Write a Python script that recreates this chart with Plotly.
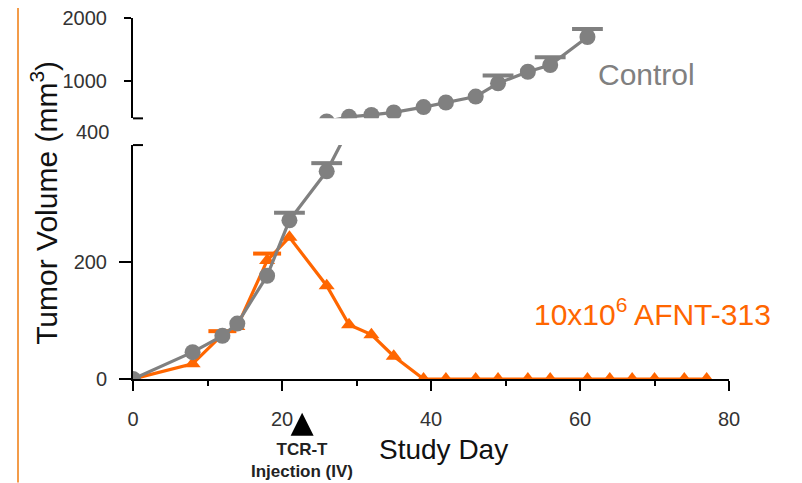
import plotly.graph_objects as go

# ---------------- data ----------------
days_control = [0, 8, 12, 14, 18, 21, 26, 29, 32, 35, 39, 42, 46, 49, 53, 56, 61]
control = [0, 46, 74, 95, 177, 272, 356, 430, 460, 500, 584, 657, 752, 963, 1147, 1253, 1700]
control_err = [None, None, None, None, None, 13, 14, None, None, None, None, None, None, 125, None, 125, 125]

days_afnt = [0, 8, 12, 14, 18, 21, 26, 29, 32, 35, 39, 42, 46, 49, 53, 56, 61, 64, 67, 70, 74, 77]
afnt = [0, 26, 76, 90, 203, 243, 160, 93, 76, 39, 0, 0, 0, 0, 0, 0, 0, 0, 0, 0, 0, 0]
afnt_err = [None, None, 6, None, 12] + [None] * 17

x_ticks = [0, 20, 40, 60, 80]
y_low_ticks = [0, 200]
y_high_ticks = [1000, 2000]
injection_day = 22.7

GRAY = "#808080"
ORANGE = "#FF6600"
FONT = "Liberation Sans, Arial, sans-serif"

# ---------------- layout geometry (page pixels; body has 8px margin) ----------------
OFF = 8
WIDTH, HEIGHT = 802 - OFF, 483 - OFF
L = 133 - OFF
T = 18 - OFF
R = WIDTH - (729 - OFF)
B = HEIGHT - (379.3 - OFF)
PW = WIDTH - L - R
PH = HEIGHT - T - B


def px_x(p):
    return (p - OFF - L) / PW


def px_y(p):
    return (HEIGHT - B - (p - OFF)) / PH


def caps(days, vals, errs):
    xs, ys = [], []
    for d, v, e in zip(days, vals, errs):
        if e is not None:
            xs.append(d)
            ys.append(v + e)
    return xs, ys


fig = go.Figure()

series = [
    (days_afnt, afnt, afnt_err, ORANGE, "triangle-up", 14, 20),
    (days_control, control, control_err, GRAY, "circle", 16, 22),
]
for days, vals, errs, color, symbol, msize, capw in series:
    cx, cy = caps(days, vals, errs)
    for yax in ("y", "y2"):
        fig.add_trace(go.Scatter(
            x=days, y=vals, yaxis=yax, mode="lines+markers",
            line=dict(color=color, width=3.2),
            marker=dict(symbol=symbol, size=msize, color=color),
            error_y=dict(type="data", symmetric=False, array=errs,
                         arrayminus=[0] * len(errs), color=color,
                         thickness=3, width=0),
            showlegend=False, hoverinfo="x+y"))
        fig.add_trace(go.Scatter(
            x=cx, y=cy, yaxis=yax, mode="markers",
            marker=dict(symbol="line-ew", size=capw,
                        line=dict(color=color, width=4)),
            showlegend=False, hoverinfo="skip"))

tickfont = dict(family=FONT, size=20, color="#333333")

fig.update_layout(
    width=WIDTH, height=HEIGHT,
    margin=dict(l=L, r=R, t=T, b=B, pad=0, autoexpand=False),
    paper_bgcolor="white", plot_bgcolor="white",
    font=dict(family=FONT),
    xaxis=dict(range=[0, 80], tickvals=x_ticks, ticks="outside", ticklen=10,
               tickwidth=2, tickcolor="black", showline=True, linewidth=2,
               linecolor="black", showgrid=False, zeroline=False,
               tickfont=tickfont, ticklabelstandoff=11, layer="below traces",
               minor=dict(dtick=10, ticks="outside", ticklen=5, tickwidth=2,
                          tickcolor="black", showgrid=False),
               fixedrange=True),
    yaxis=dict(domain=[0, 0.648], range=[0, 401], tickvals=y_low_ticks,
               ticks="outside", ticklen=12, tickwidth=2, tickcolor="black",
               showline=True, linewidth=2, linecolor="black", showgrid=False,
               zeroline=False, tickfont=tickfont, ticklabelstandoff=8,
               anchor="x", fixedrange=True),
    yaxis2=dict(domain=[0.722, 1], range=[405, 2002], tickvals=y_high_ticks,
                ticks="outside", ticklen=7, tickwidth=2, tickcolor="black",
                showline=True, linewidth=2, linecolor="black", showgrid=False,
                zeroline=False, tickfont=tickfont, ticklabelstandoff=13,
                ticklabeloverflow="allow",
                anchor="x", fixedrange=True),
)

shapes = [
    # longer tick at 2000
    dict(type="line", xref="x", xsizemode="pixel", xanchor=0, x0=-12, x1=0,
         yref="y2", y0=2000, y1=2000, line=dict(color="black", width=2)),
    # axis-break marks
    dict(type="line", xref="x", xsizemode="pixel", xanchor=0, x0=-12, x1=10,
         yref="y2 domain", y0=0, y1=0, line=dict(color="black", width=2)),
    dict(type="line", xref="x", xsizemode="pixel", xanchor=0, x0=-12, x1=10,
         yref="y domain", y0=1, y1=1, line=dict(color="black", width=2)),
    # slide border line on the left
    dict(type="line", xref="paper", yref="paper", x0=px_x(18), x1=px_x(18),
         y0=px_y(HEIGHT + OFF), y1=px_y(OFF), line=dict(color="#F39C4A", width=2)),
    # injection marker
    dict(type="path", xref="x", xsizemode="pixel", xanchor=injection_day,
         yref="paper", ysizemode="pixel", yanchor=px_y(436),
         path="M-11.5,0 L11.5,0 L0,23 Z", fillcolor="black",
         line=dict(color="black", width=0)),
]
fig.update_layout(shapes=shapes)

annotations = [
    dict(text="400", x=px_x(111), y=px_y(132), xanchor="right",
         yanchor="middle", font=tickfont),
    dict(text="Control", x=px_x(646), y=px_y(75), xanchor="center",
         yanchor="middle", font=dict(family=FONT, size=30, color=GRAY)),
    dict(text="10x10<sup>6</sup> AFNT-313", x=px_x(652), y=px_y(312),
         xanchor="center", yanchor="middle",
         font=dict(family=FONT, size=30, color=ORANGE)),
    dict(text="Tumor Volume (mm<sup>3</sup>)", x=px_x(44), y=px_y(203),
         xanchor="center", yanchor="middle", textangle=-90,
         font=dict(family=FONT, size=30, color="#111111")),
    dict(text="Study Day", x=px_x(443), y=px_y(450), xanchor="center",
         yanchor="middle", font=dict(family=FONT, size=28, color="#111111")),
    dict(text="<b>TCR-T</b><br><b>Injection (IV)</b>", x=px_x(302),
         y=px_y(461), xanchor="center", yanchor="middle",
         font=dict(family=FONT, size=17, color="#222222")),
]
for a in annotations:
    a.update(xref="paper", yref="paper", showarrow=False)
fig.update_layout(annotations=annotations)

fig.write_html("out.html")
